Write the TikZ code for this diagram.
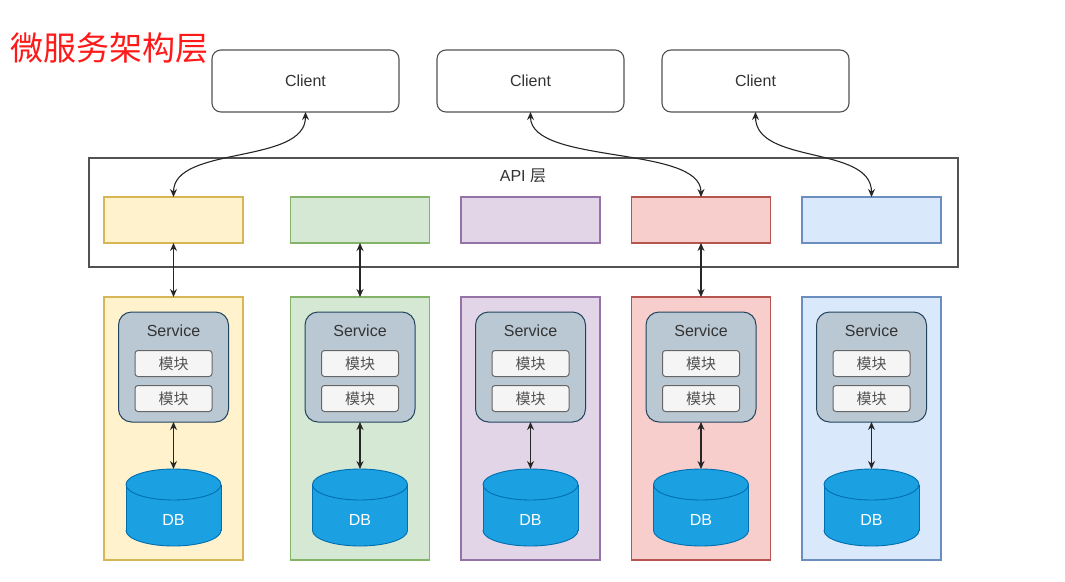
\documentclass[tikz,border=0pt]{standalone}
\usepackage{fontspec}
\setmainfont{Liberation Sans}
\newfontfamily\cjk{Noto Sans CJK SC}
\usetikzlibrary{arrows.meta}
\definecolor{txt}{HTML}{333333}
\definecolor{ylwF}{HTML}{FFF2CC}\definecolor{ylwD}{HTML}{D6B656}
\definecolor{grnF}{HTML}{D5E8D4}\definecolor{grnD}{HTML}{82B366}
\definecolor{purF}{HTML}{E1D5E7}\definecolor{purD}{HTML}{9673A6}
\definecolor{redF}{HTML}{F8CECC}\definecolor{redD}{HTML}{B85450}
\definecolor{bluF}{HTML}{DAE8FC}\definecolor{bluD}{HTML}{6C8EBF}
\definecolor{svcF}{HTML}{BAC8D3}\definecolor{svcD}{HTML}{23445D}
\definecolor{modF}{HTML}{F5F5F5}\definecolor{modD}{HTML}{666666}
\definecolor{dbF}{HTML}{1BA1E2}\definecolor{dbD}{HTML}{006EAF}
\definecolor{titleRed}{HTML}{FF1A1A}
\tikzset{
  every node/.style={inner sep=0pt, outer sep=0pt},
  clientbox/.style={draw=txt!85, line width=1.1pt, fill=white, rounded corners=9pt,
     minimum width=187pt, minimum height=62pt, font=\fontsize{16}{18}\selectfont, text=txt},
  apibox/.style={line width=1.1pt, minimum width=139pt, minimum height=46pt},
  colbox/.style={line width=1.1pt, minimum width=139pt, minimum height=263pt},
  svcbox/.style={draw=svcD, fill=svcF, line width=1pt, rounded corners=13pt,
     minimum width=110pt, minimum height=110pt},
  modbox/.style={draw=modD, fill=modF, line width=1pt, rounded corners=3pt,
     minimum width=77pt, minimum height=26pt, font=\cjk\fontsize{15}{17}\selectfont, text=txt!85},
  lbl/.style={font=\fontsize{16}{18}\selectfont, text=txt},
  dblbl/.style={font=\fontsize{16}{18}\selectfont, text=white, minimum width=95pt, minimum height=77pt},
  conn/.style={line width=1.1pt, draw=black!85, {Stealth[length=8pt,width=7pt]}-{Stealth[length=8pt,width=7pt]}},
}
\begin{document}
\begin{tikzpicture}[x=1pt,y=-1pt]
\useasboundingbox (0,0) rectangle (1065,581);
\fill[white] (0,0) rectangle (1065,581);

% title
\node[anchor=west, font=\cjk\fontsize{33}{35}\selectfont, text=titleRed] (title) at (10,48) {微服务架构层};

% clients
\node[clientbox] (c1) at (305.5,81) {Client};
\node[clientbox] (c2) at (530.5,81) {Client};
\node[clientbox] (c3) at (755.5,81) {Client};

% API layer
\node[draw=txt!85, line width=1.1pt, minimum width=869pt, minimum height=109pt] (api) at (523.5,212.5) {};
\node[lbl] (apilbl) at (523,176) {API {\cjk 层}};

\foreach \n/\x/\f/\d in {1/173.5/ylwF/ylwD, 2/360/grnF/grnD, 3/530.5/purF/purD, 4/701/redF/redD, 5/871.5/bluF/bluD}{
  \node[apibox, fill=\f, draw=\d] (a\n) at (\x,220) {};
  \node[colbox, fill=\f, draw=\d] (col\n) at (\x,428.5) {};
  \node[svcbox] (s\n) at (\x,367) {};
  \node[lbl] (st\n) at (\x,331) {Service};
  \node[modbox] (ma\n) at (\x,363.5) {模块};
  \node[modbox] (mb\n) at (\x,398.5) {模块};
  % DB cylinder
  \fill[dbF] (\x-47.5,484.5) rectangle (\x+47.5,530.5);
  \fill[dbF] (\x,530.5) ellipse [x radius=47.5pt, y radius=15.5pt];
  \draw[dbD, line width=0.9pt] (\x-47.5,484.5) -- (\x-47.5,530.5) (\x+47.5,484.5) -- (\x+47.5,530.5);
  \begin{scope}
    \clip (\x-50,530.5) rectangle (\x+50,550);
    \draw[dbD, line width=0.9pt] (\x,530.5) ellipse [x radius=47.5pt, y radius=15.5pt];
  \end{scope}
  \filldraw[fill=dbF, draw=dbD, line width=0.9pt] (\x,484.5) ellipse [x radius=47.5pt, y radius=15.5pt];
  \node[dblbl] (db\n) at (\x,507.5) {};
  \node[font=\fontsize{16}{18}\selectfont, text=white] (dbt\n) at (\x,520) {DB};
  % service to DB
  \draw[conn] (s\n.south) -- (db\n.north);
}

% API to service columns
\foreach \n in {1,2,4}{
  \draw[conn] (a\n.south) -- (col\n.north);
}

% client connectors
\draw[conn] (c1.south) .. controls (305.5,165) and (173.5,145) .. (a1.north);
\draw[conn] (c2.south) .. controls (530.5,165) and (701,145) .. (a4.north);
\draw[conn] (c3.south) .. controls (755.5,165) and (871.5,145) .. (a5.north);
\end{tikzpicture}
\end{document}
